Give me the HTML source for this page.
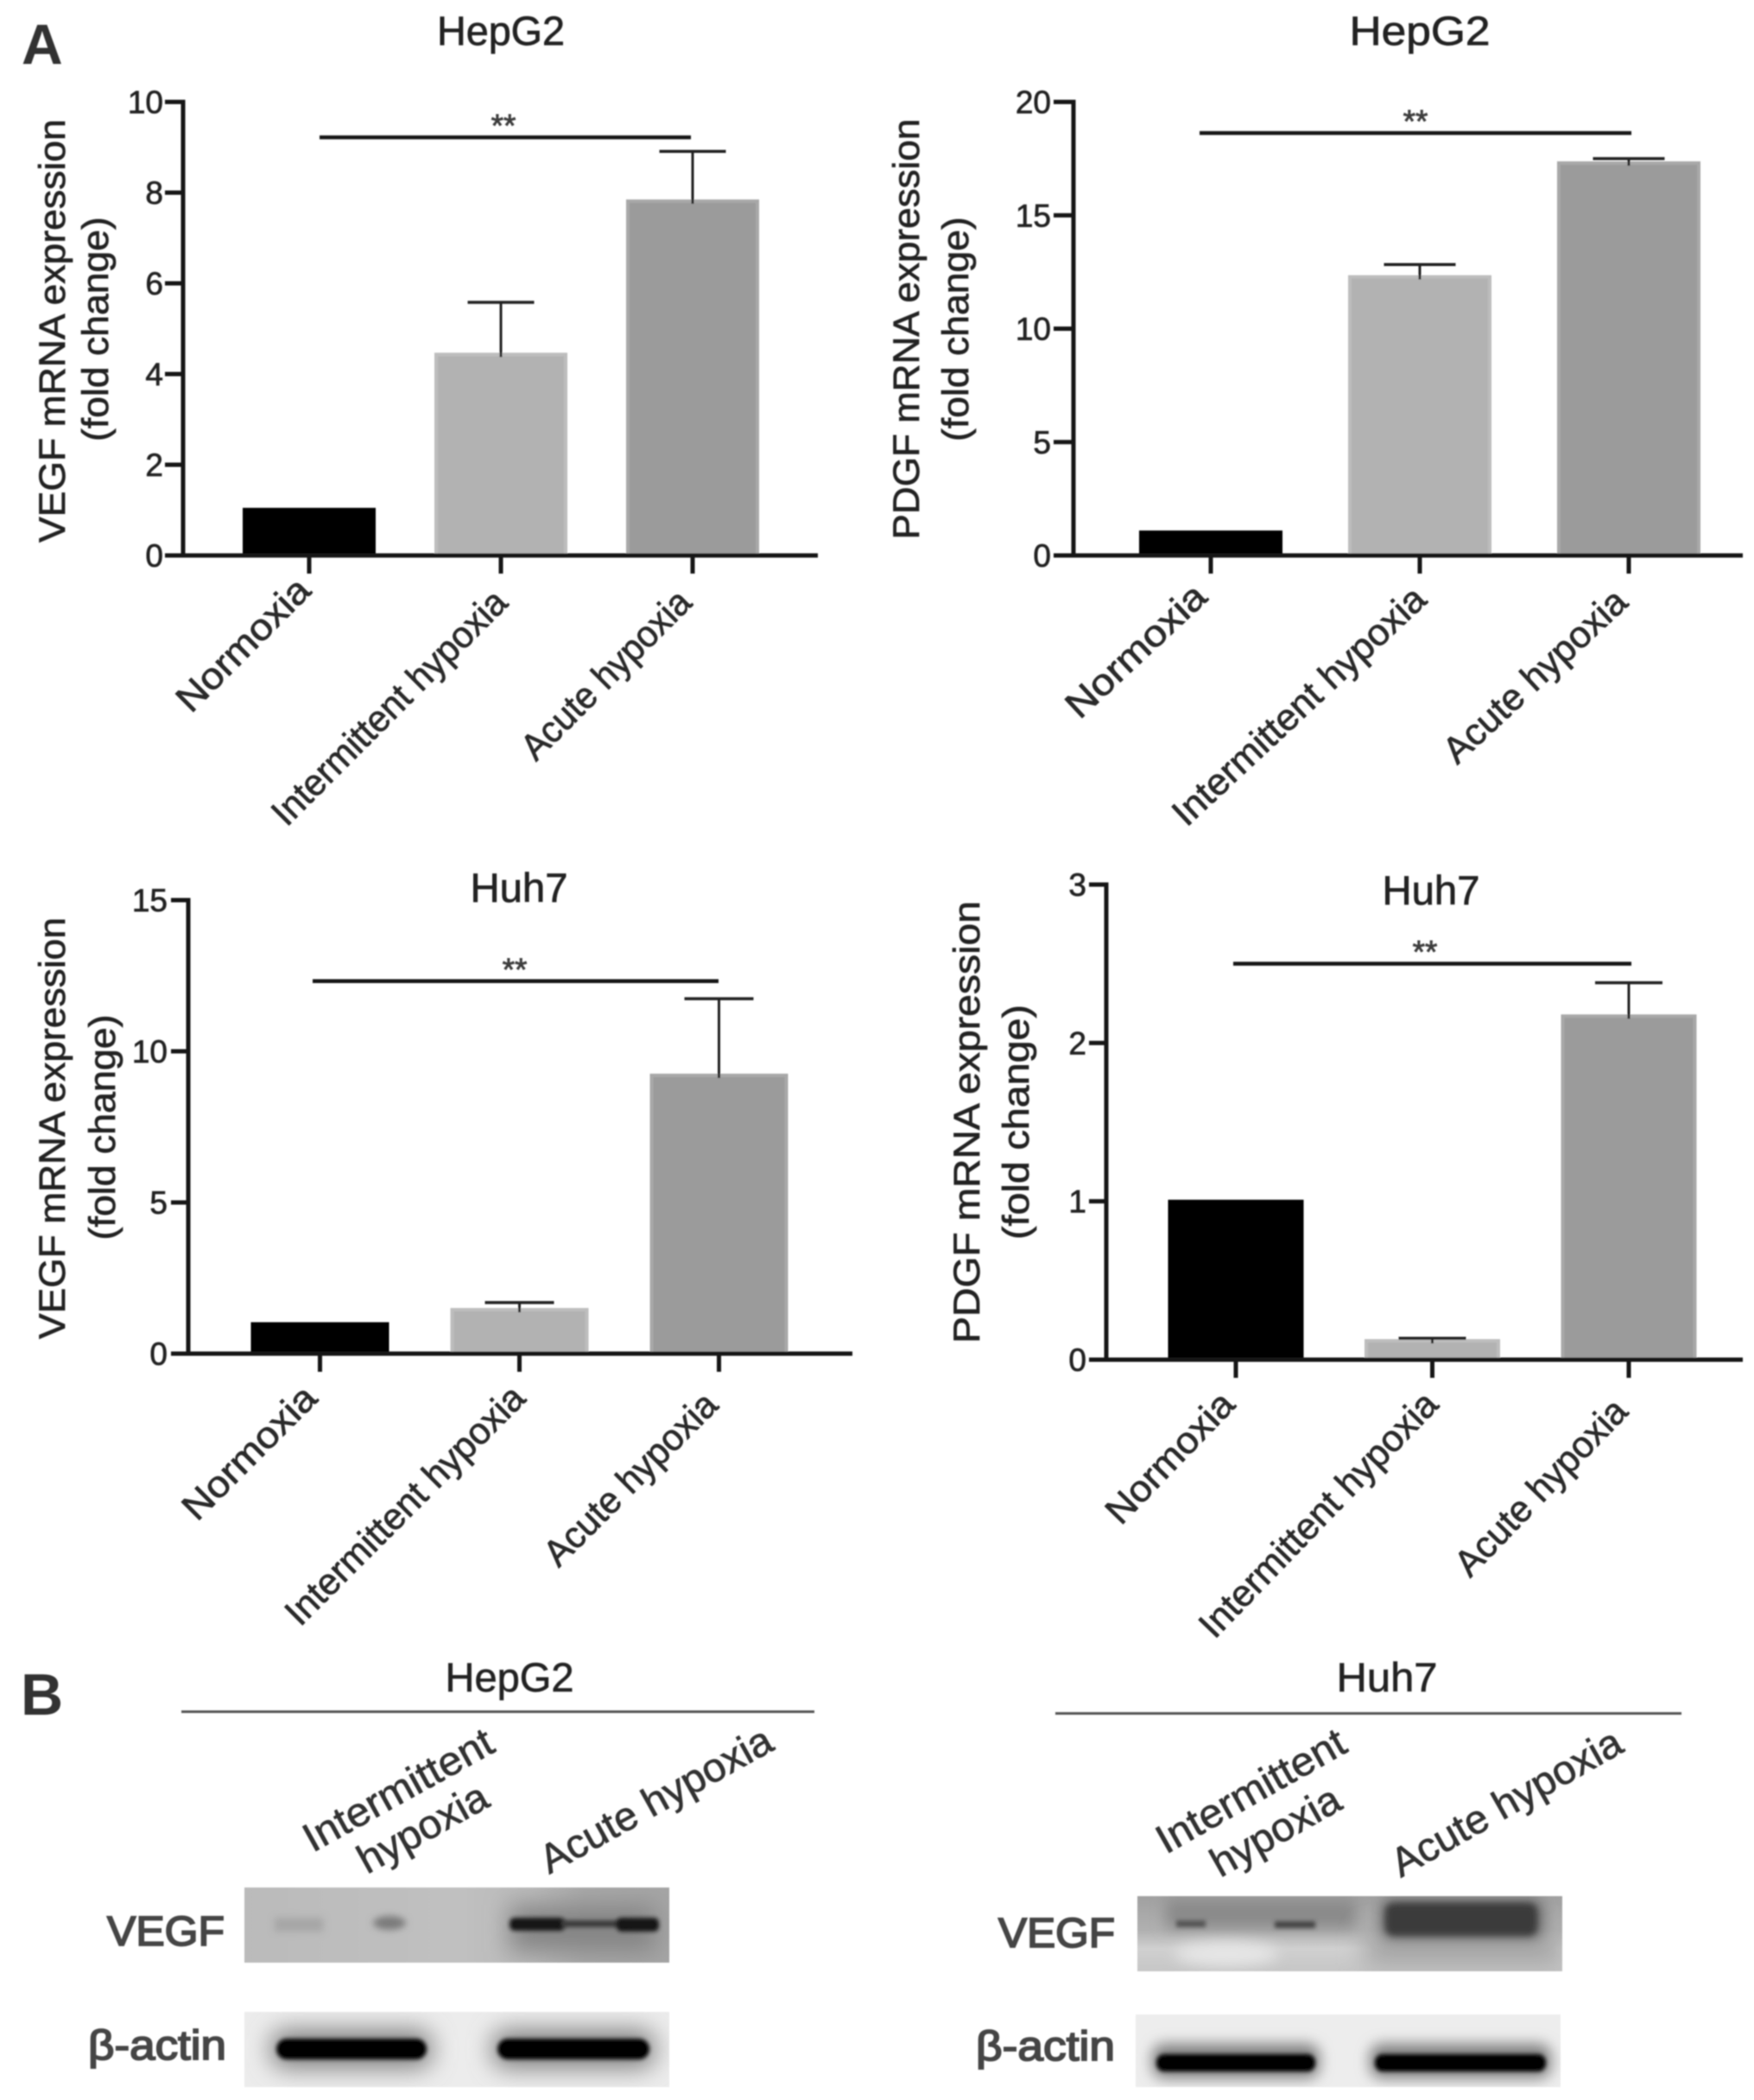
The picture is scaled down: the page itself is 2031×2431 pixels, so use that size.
<!DOCTYPE html>
<html lang="en">
<head>
<meta charset="utf-8">
<title>VEGF and PDGF expression under hypoxia</title>
<style>
html,body{margin:0;padding:0;background:#fff;}
svg{display:block;}
text{font-family:"Liberation Sans",sans-serif;}
#charts text{stroke:#222;stroke-width:0.7px;}
.heavy{stroke:#444;stroke-width:1.8px;}
.mid{stroke:#333;stroke-width:0.7px;}
</style>
</head>
<body>
<svg id="figure" xmlns="http://www.w3.org/2000/svg" width="2031" height="2431" viewBox="0 0 2031 2431">
<defs>
<filter id="soft" x="-5%" y="-5%" width="110%" height="110%"><feGaussianBlur stdDeviation="0.9"/></filter>
<filter id="b2" x="-30%" y="-60%" width="160%" height="220%"><feGaussianBlur stdDeviation="2.5"/></filter>
<filter id="b4" x="-30%" y="-80%" width="160%" height="260%"><feGaussianBlur stdDeviation="4"/></filter>
<filter id="b8" x="-30%" y="-100%" width="160%" height="300%"><feGaussianBlur stdDeviation="8"/></filter>
<filter id="b14" x="-40%" y="-150%" width="180%" height="400%"><feGaussianBlur stdDeviation="14"/></filter>
<clipPath id="clip-a"><rect x="283" y="2185" width="492" height="87"/></clipPath>
<clipPath id="clip-b"><rect x="283" y="2329" width="492" height="87"/></clipPath>
<clipPath id="clip-c"><rect x="1317" y="2195" width="492" height="87"/></clipPath>
<clipPath id="clip-d"><rect x="1315" y="2332" width="492" height="84"/></clipPath>
<linearGradient id="bg-a" x1="0" x2="1" y1="0" y2="0"><stop offset="0" stop-color="#bababa"/><stop offset="0.5" stop-color="#c0c0c0"/><stop offset="0.68" stop-color="#bababa"/><stop offset="0.8" stop-color="#a9a9a9"/><stop offset="1" stop-color="#a5a5a5"/></linearGradient>
<linearGradient id="bg-c" x1="0" x2="0" y1="0" y2="1"><stop offset="0" stop-color="#a0a0a0"/><stop offset="0.45" stop-color="#b0b0b0"/><stop offset="0.7" stop-color="#d0d0d0"/><stop offset="1" stop-color="#c6c6c6"/></linearGradient>
</defs>
<g id="root" filter="url(#soft)">
<g id="charts"></g>
<text x="25" y="74" font-size="66" font-weight="bold" fill="#333">A</text>
<text x="24" y="1985" font-size="68" font-weight="bold" fill="#333">B</text>

<g>
<text class="mid" x="590" y="1958" font-size="47" text-anchor="middle" textLength="149" lengthAdjust="spacingAndGlyphs" fill="#222">HepG2</text>
<rect x="210" y="1980" width="733" height="3" fill="#555"/>
<text class="mid" transform="translate(362,2145) rotate(-29)" font-size="47" textLength="244" lengthAdjust="spacingAndGlyphs" fill="#333">Intermittent</text>
<text class="mid" transform="translate(425,2170) rotate(-29)" font-size="47" textLength="165" lengthAdjust="spacingAndGlyphs" fill="#333">hypoxia</text>
<text class="mid" transform="translate(636,2170) rotate(-29)" font-size="47" textLength="300" lengthAdjust="spacingAndGlyphs" fill="#333">Acute hypoxia</text>
<text class="heavy" x="124" y="2252" font-size="48" textLength="136" lengthAdjust="spacingAndGlyphs" fill="#444">VEGF</text>
<text class="heavy" x="102" y="2384" font-size="48" textLength="160" lengthAdjust="spacingAndGlyphs" fill="#444">β-actin</text>
<g clip-path="url(#clip-a)">
<rect x="283" y="2185" width="492" height="87" fill="url(#bg-a)"/>
<rect x="318" y="2220" width="56" height="16" fill="#a6a6a6" filter="url(#b4)"/>
<ellipse cx="451" cy="2226" rx="19" ry="8" fill="#7a7a7a" filter="url(#b4)"/>
<rect x="590" y="2205" width="170" height="55" fill="#858585" filter="url(#b14)"/>
<rect x="590" y="2220" width="64" height="15" rx="6" fill="#151515" filter="url(#b2)"/>
<rect x="650" y="2223" width="70" height="8" fill="#3a3a3a" filter="url(#b2)"/>
<rect x="714" y="2220" width="49" height="16" rx="6" fill="#151515" filter="url(#b2)"/>
</g>
<g clip-path="url(#clip-b)">
<rect x="283" y="2329" width="492" height="87" fill="#ececec"/>
<rect x="314" y="2350" width="186" height="44" rx="16" fill="#7e7e7e" filter="url(#b14)"/>
<rect x="570" y="2350" width="188" height="44" rx="16" fill="#7e7e7e" filter="url(#b14)"/>
<rect x="320" y="2360" width="174" height="24" rx="12" fill="#050505" filter="url(#b2)"/>
<rect x="576" y="2360" width="176" height="24" rx="12" fill="#050505" filter="url(#b2)"/>
</g>
</g>

<g>
<text class="mid" x="1606" y="1958" font-size="47" text-anchor="middle" textLength="117" lengthAdjust="spacingAndGlyphs" fill="#222">Huh7</text>
<rect x="1222" y="1982" width="725" height="3" fill="#555"/>
<text class="mid" transform="translate(1350,2147) rotate(-29.5)" font-size="47" textLength="244" lengthAdjust="spacingAndGlyphs" fill="#333">Intermittent</text>
<text class="mid" transform="translate(1413,2174) rotate(-29.5)" font-size="47" textLength="165" lengthAdjust="spacingAndGlyphs" fill="#333">hypoxia</text>
<text class="mid" transform="translate(1622,2174) rotate(-29.5)" font-size="47" textLength="299" lengthAdjust="spacingAndGlyphs" fill="#333">Acute hypoxia</text>
<text class="heavy" x="1156" y="2254" font-size="48" textLength="135" lengthAdjust="spacingAndGlyphs" fill="#444">VEGF</text>
<text class="heavy" x="1130" y="2385" font-size="48" textLength="161" lengthAdjust="spacingAndGlyphs" fill="#444">β-actin</text>
<g clip-path="url(#clip-c)">
<rect x="1317" y="2195" width="492" height="87" fill="url(#bg-c)"/>
<rect x="1350" y="2198" width="220" height="34" fill="#8a8a8a" filter="url(#b8)"/>
<ellipse cx="1420" cy="2262" rx="60" ry="14" fill="#e6e6e6" filter="url(#b8)"/>
<rect x="1580" y="2235" width="229" height="40" fill="#a4a4a4" filter="url(#b14)"/>
<rect x="1362" y="2223" width="34" height="8" fill="#555" filter="url(#b2)"/>
<rect x="1476" y="2224" width="47" height="8" fill="#444" filter="url(#b2)"/>
<rect x="1598" y="2197" width="190" height="48" rx="14" fill="#6f6f6f" filter="url(#b8)"/>
<rect x="1604" y="2203" width="176" height="38" rx="10" fill="#3b3b3b" filter="url(#b4)"/>
</g>
<g clip-path="url(#clip-d)">
<rect x="1315" y="2332" width="492" height="84" fill="#ededed"/>
<rect x="1334" y="2366" width="194" height="40" rx="14" fill="#7e7e7e" filter="url(#b8)"/>
<rect x="1586" y="2366" width="210" height="40" rx="14" fill="#7e7e7e" filter="url(#b8)"/>
<rect x="1339" y="2378" width="184" height="20" rx="9" fill="#050505" filter="url(#b2)"/>
<rect x="1592" y="2378" width="198" height="20" rx="9" fill="#050505" filter="url(#b2)"/>
</g>
</g>
</g>
</svg>
<script>
const categories = ['Normoxia', 'Intermittent hypoxia', 'Acute hypoxia'];

const hepg2VegfMeans = [1.05, 4.47, 7.85];
const hepg2VegfErrors = [0, 1.11, 1.06];
const hepg2VegfTicks = [0, 2, 4, 6, 8, 10];
const hepg2VegfSigLevel = 9.22;

const hepg2PdgfMeans = [1.10, 12.36, 17.38];
const hepg2PdgfErrors = [0, 0.47, 0.12];
const hepg2PdgfTicks = [0, 5, 10, 15, 20];
const hepg2PdgfSigLevel = 18.63;

const huh7VegfMeans = [1.04, 1.51, 9.26];
const huh7VegfErrors = [0, 0.18, 2.48];
const huh7VegfTicks = [0, 5, 10, 15];
const huh7VegfSigLevel = 12.32;

const huh7PdgfMeans = [1.01, 0.13, 2.18];
const huh7PdgfErrors = [0, 0.005, 0.20];
const huh7PdgfTicks = [0, 1, 2, 3];
const huh7PdgfSigLevel = 2.50;

const barFills = ['#000000', '#b2b2b2', '#9b9b9b'];
const barEdges = ['#000000', '#bdbdbd', '#a8a8a8'];

const charts = [
  {key: 'hepg2-vegf', title: 'HepG2', titleX: 580, titleY: 52, titleLen: 148, means: hepg2VegfMeans, errors: hepg2VegfErrors, ticks: hepg2VegfTicks, sig: hepg2VegfSigLevel,
   axisX: 212, axisEnd: 947, top: 118, base: 643, firstX: 358, step: 222, barW: 154, capW: 77, tickL: 191, labelR: 189,
   sigA: 370, sigB: 800, starX: 583, title1: 'VEGF mRNA expression', t1X: 75, t1C: 383, t1L: 490, t2X: 125, t2C: 381, t2L: 260,
   angle: 45, lens: [199, 365, 258], off: [[0, -11], [6, 3], [-3, 3]]},
  {key: 'hepg2-pdgf', title: 'HepG2', titleX: 1644, titleY: 52, titleLen: 163, means: hepg2PdgfMeans, errors: hepg2PdgfErrors, ticks: hepg2PdgfTicks, sig: hepg2PdgfSigLevel,
   axisX: 1243, axisEnd: 2018, top: 118, base: 643, firstX: 1402, step: 242, barW: 166, capW: 83, tickL: 1220, labelR: 1217,
   sigA: 1389, sigB: 1889, starX: 1639, title1: 'PDGF mRNA expression', t1X: 1064, t1C: 381, t1L: 487, t2X: 1121, t2C: 381, t2L: 260,
   angle: 43, lens: [205, 383, 273], off: [[-6, -3], [6, 0], [-3, 3]]},
  {key: 'huh7-vegf', title: 'Huh7', titleX: 601, titleY: 1044, titleLen: 113, means: huh7VegfMeans, errors: huh7VegfErrors, ticks: huh7VegfTicks, sig: huh7VegfSigLevel,
   axisX: 218, axisEnd: 987, top: 1042, base: 1567, firstX: 370.5, step: 231, barW: 160, capW: 80, tickL: 198, labelR: 194,
   sigA: 362, sigB: 832, starX: 596, title1: 'VEGF mRNA expression', t1X: 75, t1C: 1306, t1L: 488, t2X: 133, t2C: 1305, t2L: 261,
   angle: 45, lens: [200, 372, 264], off: [[-5, 0], [5, 0], [-3, 8]]},
  {key: 'huh7-pdgf', title: 'Huh7', titleX: 1657, titleY: 1047, titleLen: 113, means: huh7PdgfMeans, errors: huh7PdgfErrors, ticks: huh7PdgfTicks, sig: huh7PdgfSigLevel,
   axisX: 1281, axisEnd: 2018, top: 1024, base: 1574, firstX: 1431, step: 227.5, barW: 157, capW: 78, tickL: 1261, labelR: 1258,
   sigA: 1428, sigB: 1889, starX: 1650, title1: 'PDGF mRNA expression', t1X: 1134, t1C: 1299, t1L: 512, t2X: 1191, t2C: 1299, t2L: 272,
   angle: 46, lens: [193, 376, 266], off: [[-3, 0], [5, 0], [-3, 8]]}
];

const NS = 'http://www.w3.org/2000/svg';
const host = document.getElementById('charts');

function make(parent, tag, attrs, text) {
  const node = document.createElementNS(NS, tag);
  for (const k in attrs) node.setAttribute(k, attrs[k]);
  if (text !== undefined) node.textContent = text;
  parent.appendChild(node);
  return node;
}

charts.forEach(function (c) {
  const maxTick = c.ticks[c.ticks.length - 1];
  const yScale = function (v) { return c.base - (v / maxTick) * (c.base - c.top); };
  const xScale = function (i) { return c.firstX + i * c.step; };

  const group = make(host, 'g', {});
  
  

  const title = make(group, 'text', {x: c.titleX, y: c.titleY, 'font-size': 47, 'text-anchor': 'middle', textLength: c.titleLen, lengthAdjust: 'spacingAndGlyphs', fill: '#222'}, c.title);
  
  

  const yTitle1 = make(group, 'text', {transform: 'translate(' + c.t1X + ',' + c.t1C + ') rotate(-90)', 'font-size': 43, 'text-anchor': 'middle', textLength: c.t1L, lengthAdjust: 'spacingAndGlyphs', fill: '#222'}, c.title1);
  
  

  const yTitle2 = make(group, 'text', {transform: 'translate(' + c.t2X + ',' + c.t2C + ') rotate(-90)', 'font-size': 43, 'text-anchor': 'middle', textLength: c.t2L, lengthAdjust: 'spacingAndGlyphs', fill: '#222'}, '(fold change)');
  
  

  c.means.forEach(function (m, i) {
    const top = yScale(m);
    const cx = xScale(i);
    const inset = i === 0 ? 0 : 2;
    const bar = make(group, 'rect', {x: cx - c.barW / 2 + inset, y: top + inset, width: c.barW - 2 * inset, height: Math.max(0, c.base - top - inset), fill: barFills[i], stroke: barEdges[i], 'stroke-width': i === 0 ? 0 : 4});
    
    
    if (c.errors[i] > 0) {
      const hi = yScale(m + c.errors[i]);
      const stem = make(group, 'line', {x1: cx, x2: cx, y1: hi, y2: top + 5, stroke: '#222', 'stroke-width': 3});
      
      
      const cap = make(group, 'line', {x1: cx - c.capW / 2, x2: cx + c.capW / 2, y1: hi, y2: hi, stroke: '#222', 'stroke-width': 3.5});
      
      
    }
  });

  const yAxis = make(group, 'line', {x1: c.axisX, x2: c.axisX, y1: c.top - 2.5, y2: c.base + 2.5, stroke: '#161616', 'stroke-width': 5});
  
  
  const xAxis = make(group, 'line', {x1: c.tickL, x2: c.axisEnd, y1: c.base, y2: c.base, stroke: '#161616', 'stroke-width': 5});
  
  

  c.ticks.forEach(function (t) {
    const y = yScale(t);
    const mark = make(group, 'line', {x1: c.tickL, x2: c.axisX, y1: y, y2: y, stroke: '#161616', 'stroke-width': 5});
    
    
    const label = make(group, 'text', {x: c.labelR, y: y + 13, 'font-size': 37, 'text-anchor': 'end', fill: '#222'}, String(t));
    
    
  });

  categories.forEach(function (name, i) {
    const cx = xScale(i);
    const mark = make(group, 'line', {x1: cx, x2: cx, y1: c.base, y2: c.base + 21, stroke: '#161616', 'stroke-width': 5});
    
    
    const label = make(group, 'text', {transform: 'translate(' + (cx + 4 + c.off[i][0]) + ',' + (c.base + 54 + c.off[i][1]) + ') rotate(' + (-c.angle) + ')', 'font-size': 43, 'text-anchor': 'end', textLength: c.lens[i], lengthAdjust: 'spacingAndGlyphs', fill: '#2a2a2a'}, name);
    
    
  });

  const sigY = yScale(c.sig);
  const sig = make(group, 'line', {x1: c.sigA, x2: c.sigB, y1: sigY, y2: sigY, stroke: '#161616', 'stroke-width': 4.5});
  
  
  const star = make(group, 'text', {x: c.starX, y: sigY - 1, 'font-size': 37, 'text-anchor': 'middle', fill: '#444'}, '**');
  
  
});
</script>
</body>
</html>
